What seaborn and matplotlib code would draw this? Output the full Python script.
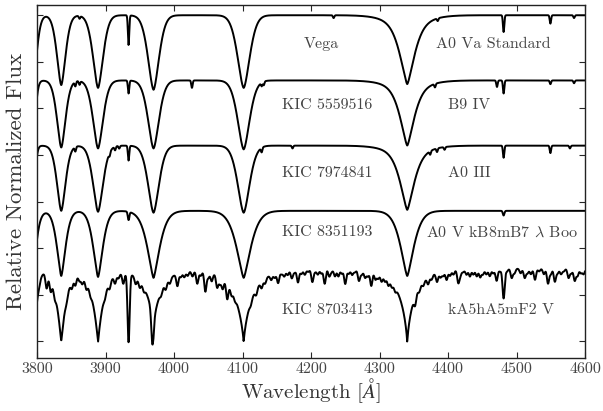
import numpy as np
import pandas as pd
import seaborn as sns
import matplotlib
matplotlib.use("Agg")
import matplotlib.pyplot as plt

# ---------------- data ----------------
stars = ["Vega", "KIC 5559516", "KIC 7974841", "KIC 8351193", "KIC 8703413"]
spectral_types = ["A0 Va Standard", "B9 IV", "A0 III",
                  r"A0 V kB8mB7 $\lambda$ Boo", "kA5hA5mF2 V"]
offsets = [2.5, 1.8, 1.1, 0.4, -0.22]

# Balmer lines: H10, H9, H8, H-eps, H-delta, H-gamma, H-gamma far wing
balmer_centers = [3794.0, 3835.4, 3889.1, 3970.1, 4101.7, 4340.5, 4340.5]
balmer_depths = [
    [0.75, 0.75, 0.78, 0.80, 0.78, 0.72, 0.07],
    [0.72, 0.72, 0.73, 0.73, 0.74, 0.68, 0.06],
    [0.72, 0.70, 0.71, 0.72, 0.72, 0.67, 0.06],
    [0.72, 0.70, 0.71, 0.72, 0.72, 0.70, 0.00],
    [0.78, 0.78, 0.79, 0.60, 0.79, 0.80, 0.00],
]
balmer_widths = [
    [7.6, 9.0, 10.5, 11.5, 12.7, 15.0, 45.0],
    [4.9, 9.0, 10.5, 11.5, 12.5, 14.5, 45.0],
    [4.1, 9.0, 10.5, 11.5, 12.5, 14.5, 45.0],
    [6.8, 9.0, 10.0, 13.0, 15.0, 14.0, 45.0],
    [7.0, 9.0, 10.0, 13.0, 14.0, 12.0, 45.0],
]
balmer_shapes = [
    [1.65, 1.65, 1.65, 1.65, 1.65, 1.4, 2.0],
    [1.6, 1.65, 1.65, 1.65, 1.65, 1.4, 2.0],
    [1.6, 1.65, 1.65, 1.65, 1.65, 1.4, 2.0],
    [1.35, 1.5, 1.5, 1.4, 1.4, 1.4, 2.0],
    [1.5, 1.1, 1.0, 0.9, 0.85, 0.8, 2.0],
]

# metal lines (centre, depth)
metal_centers = [
    [3862, 3933.7, 4233, 4385, 4481.2, 4549.5, 4584],
    [3856, 3862, 3933.7, 4026.2, 4128, 4131, 4381, 4471.5, 4481.2, 4549.5, 4584],
    [3856, 3906, 3914, 3920, 3933.7, 4128, 4173, 4374, 4384, 4395, 4481.2, 4549.5, 4578],
    [3933.7, 4481.2],
    [3803, 3814, 3820, 3826, 3843, 3851, 3856, 3862, 3866, 3872, 3878, 3899, 3906,
     3914, 3919, 3926, 3933.7, 3944, 3950, 3956, 3968.5, 3981, 3988, 3994,
     4005, 4010, 4015, 4020, 4027, 4034, 4039, 4045.8, 4050, 4055, 4063, 4067, 4071,
     4077.7, 4084, 4089, 4112, 4120, 4128, 4133,
     4142, 4147, 4152, 4157, 4161, 4166, 4172, 4176, 4181, 4186, 4191, 4196, 4202,
     4206, 4210, 4215, 4220, 4226.7, 4230, 4235, 4240, 4245, 4250, 4255, 4260, 4264,
     4270, 4274, 4279, 4283, 4288, 4294, 4298, 4303, 4308, 4313, 4318, 4323,
     4352, 4358, 4364, 4371, 4376, 4384, 4389, 4393, 4398, 4403, 4408, 4415, 4418,
     4422, 4427, 4432, 4437, 4442, 4447, 4451, 4456, 4461, 4466, 4471, 4476, 4481.2,
     4486, 4493, 4497, 4506, 4512, 4516, 4521, 4527, 4533, 4540, 4546, 4550, 4556,
     4560, 4565, 4569, 4576, 4580, 4585, 4589, 4594, 4598],
]
metal_depths = [
    [0.03, 0.32, 0.03, 0.03, 0.18, 0.09, 0.03],
    [0.05, 0.04, 0.14, 0.08, 0.04, 0.04, 0.04, 0.07, 0.14, 0.04, 0.03],
    [0.05, 0.04, 0.04, 0.03, 0.16, 0.05, 0.03, 0.04, 0.04, 0.03, 0.13, 0.08, 0.03],
    [0.09, 0.05],
    [0.03, 0.16, 0.14, 0.09, 0.06, 0.09, 0.10, 0.06, 0.08, 0.09, 0.06, 0.06, 0.08,
     0.09, 0.05, 0.12, 0.78, 0.08, 0.08, 0.06, 0.62, 0.06, 0.08, 0.06,
     0.14, 0.05, 0.06, 0.05, 0.06, 0.14, 0.05, 0.22, 0.06, 0.09, 0.14, 0.08, 0.12,
     0.20, 0.08, 0.06, 0.06, 0.08, 0.08, 0.06,
     0.06, 0.05, 0.12, 0.03, 0.06, 0.05, 0.09, 0.03, 0.14, 0.05, 0.06, 0.03, 0.14,
     0.03, 0.06, 0.05, 0.16, 0.08, 0.03, 0.08, 0.08, 0.05, 0.16, 0.05, 0.06, 0.03,
     0.12, 0.05, 0.08, 0.06, 0.16, 0.08, 0.06, 0.08, 0.06, 0.08, 0.06, 0.06,
     0.14, 0.06, 0.05, 0.08, 0.05, 0.10, 0.06, 0.05, 0.10, 0.06, 0.05, 0.14, 0.06,
     0.03, 0.06, 0.08, 0.06, 0.08, 0.09, 0.06, 0.06, 0.08, 0.05, 0.13, 0.03, 0.32,
     0.03, 0.10, 0.05, 0.05, 0.10, 0.05, 0.06, 0.12, 0.03, 0.06, 0.16, 0.06, 0.14,
     0.05, 0.06, 0.03, 0.10, 0.05, 0.13, 0.08, 0.05, 0.06],
]
metal_widths = [1.4, 1.4, 1.4, 1.6, 2.3]

xticks = [3800, 3900, 4000, 4100, 4200, 4300, 4400, 4500, 4600]
yticks = [0.0, 0.5, 1.0, 1.5, 2.0, 2.5, 3.0, 3.5]

# ---------------- build spectra ----------------
wl = np.arange(3800.0, 4600.01, 0.4)
frames = []
for i, name in enumerate(stars):
    f = np.ones_like(wl)
    for c, d, w, p in zip(balmer_centers, balmer_depths[i], balmer_widths[i], balmer_shapes[i]):
        f *= 1 - d * np.exp(-(np.abs(wl - c) / w) ** p)
    for c, d in zip(metal_centers[i], metal_depths[i]):
        wm = 2.2 if (i == 4 and d >= 0.5) else metal_widths[i]
        f *= 1 - d * np.exp(-((wl - c) / wm) ** 2)
    frames.append(pd.DataFrame({"wavelength": wl, "flux": f + offsets[i], "star": name}))
df = pd.concat(frames, ignore_index=True)

# ---------------- plot ----------------
sns.set_style("ticks")
plt.rcParams["font.family"] = ["cmr10", "DejaVu Serif"]
plt.rcParams["mathtext.fontset"] = "cm"
plt.rcParams["axes.unicode_minus"] = False
plt.rcParams["axes.formatter.use_mathtext"] = True

fig = plt.figure(figsize=(6.03, 4.11), dpi=100)
ax = fig.add_axes([37 / 603, 1 - 358 / 411, 548 / 603, 353 / 411])

sns.lineplot(data=df, x="wavelength", y="flux", hue="star", palette=["black"] * 5,
             legend=False, estimator=None, linewidth=1.4, ax=ax)

ax.set_xlim(3800, 4600)
ax.set_ylim(-0.18, 3.61)
ax.set_xticks(xticks)
ax.set_xticklabels([str(t) for t in xticks])
ax.set_yticks(yticks)
ax.set_yticklabels([])
ax.tick_params(direction="in", top=True, right=True, length=4, width=0.8,
               labelsize=11.5, labelcolor="#444444", pad=3)
for s in ax.spines.values():
    s.set_linewidth(1.0)
    s.set_color("#222222")

ax.set_xlabel(r"Wavelength [$\AA$]", fontsize=15, color="#333333", labelpad=0)
ax.set_ylabel("Relative Normalized Flux", fontsize=16.5, color="#333333", labelpad=5)

name_x = [4190, 4158, 4158, 4158, 4158]
type_x = [4382, 4400, 4400, 4368, 4400]
label_y = [3.19, 2.54, 1.80, 1.17, 0.33]
for i in range(5):
    ax.text(name_x[i], label_y[i], stars[i], ha="left", va="center", fontsize=11.5, color="#444444")
    ax.text(type_x[i], label_y[i], spectral_types[i], ha="left", va="center", fontsize=11.5, color="#444444")

fig.savefig("out.png", dpi=100)
